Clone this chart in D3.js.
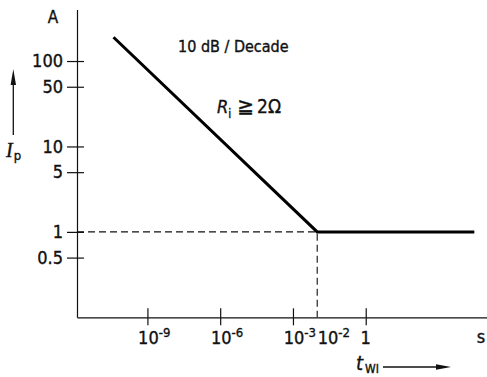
<!DOCTYPE html>
<html>
<head>
<meta charset="utf-8">
<script src="https://cdn.jsdelivr.net/npm/d3@7/dist/d3.min.js"></script>
<style>
  html, body { margin: 0; padding: 0; background: #fff; }
  svg { display: block; }
  text { font-family: "Liberation Sans Narrow", "Arial Narrow", "DejaVu Sans Condensed", sans-serif; fill: #111; stroke: #111; stroke-width: 0.35px; }
</style>
</head>
<body>
<svg id="chart" width="487" height="377"></svg>
<script>
// Pulse current limit vs. pulse width (log-log)
const yTickValues = [0.5, 1, 5, 10, 50, 100];
const yTickLabels = ["0.5", "1", "5", "10", "50", "100"];
const xTickValues = [1e-9, 1e-6, 1e-3, 1];
const xLabelValues = [1e-9, 1e-6, 1e-3, 1e-2, 1];
const xLabelExponents = ["-9", "-6", "-3", "-2", ""];
const pulseWidth = [4e-11, 1e-2, 3e4];   // s
const pulseCurrent = [190, 1, 1];        // A
const kneeT = 1e-2, kneeI = 1;

const svg = d3.select("#chart");
const x = d3.scaleLog().domain([1.25e-12, 1e5]).range([77, 487]);
const y = d3.scaleLog().domain([0.1, 400]).range([317.3, 9.6]);
const x0 = x.range()[0], y0 = y.range()[0];

// dashed guides to the knee
svg.append("path")
  .attr("d", `M${x0},${y(kneeI)}H${x(kneeT)}V${y0}`)
  .attr("fill", "none").attr("stroke", "#111").attr("stroke-width", 1.1)
  .attr("stroke-dasharray", "7,4");

// y axis
const yAxis = svg.append("g").attr("transform", `translate(${x0},0)`)
  .call(d3.axisLeft(y).tickValues(yTickValues).tickSize(10).tickSizeOuter(0).tickPadding(4)
    .tickFormat((d, i) => yTickLabels[i]));
yAxis.selectAll(".tick").append("line").attr("x2", 7).attr("stroke", "#111");
yAxis.selectAll("line, path").attr("stroke", "#111").attr("stroke-width", 1.2);
yAxis.selectAll("text").attr("font-size", 18).attr("fill", "#111")
  .style("font-family", '"Liberation Sans Narrow", "Arial Narrow", "DejaVu Sans Condensed", sans-serif');

// x axis
const xAxis = svg.append("g").attr("transform", `translate(0,${y0})`)
  .call(d3.axisBottom(x).tickValues(xTickValues).tickSize(8).tickSizeOuter(0).tickFormat(""));
xAxis.selectAll(".tick").append("line").attr("y2", -9).attr("stroke", "#111");
xAxis.selectAll("line, path").attr("stroke", "#111").attr("stroke-width", 1.2);

// x tick labels: "10" centred on the tick, exponent raised after it
xLabelValues.forEach((v, i) => {
  const t = svg.append("text").attr("y", 344).attr("font-size", 18);
  const exp = xLabelExponents[i];
  if (!exp) {
    t.attr("x", x(v)).attr("text-anchor", "middle").text("1");
    return;
  }
  const base = t.append("tspan").text("10");
  t.append("tspan").attr("dy", -7).attr("font-size", 13).text(exp);
  const w = base.node().getComputedTextLength();
  t.attr("x", v === kneeT ? x(v) + 0.5 : x(v) - w / 2 + 1);
});

// characteristic
svg.append("path")
  .datum(pulseWidth.map((t, i) => [t, pulseCurrent[i]]))
  .attr("d", d3.line().x(d => x(d[0])).y(d => y(d[1])))
  .attr("fill", "none").attr("stroke", "#000").attr("stroke-width", 3)
  .attr("stroke-linejoin", "miter");

// units
svg.append("text").attr("x", 53).attr("y", 23).attr("font-size", 17).attr("text-anchor", "middle").text("A");
svg.append("text").attr("x", 481).attr("y", 343).attr("font-size", 18).attr("text-anchor", "middle").text("s");

// annotations
svg.append("text").attr("x", 178).attr("y", 52).attr("font-size", 16)
  .text("10 dB / Decade");
const ri = svg.append("text").attr("x", 217).attr("y", 113).attr("font-size", 18);
ri.append("tspan").attr("font-style", "italic").text("R");
ri.append("tspan").attr("dy", 5).attr("font-size", 12).text("i");
ri.append("tspan").attr("dy", -5).attr("dx", 6).style("font-family", '"DejaVu Sans", sans-serif').attr("font-size", 20).text("≧");
ri.append("tspan").attr("dx", 3).attr("font-size", 19).text("2Ω");

// y axis caption with arrow
svg.append("line").attr("x1", 13.3).attr("x2", 13.3).attr("y1", 135).attr("y2", 80)
  .attr("stroke", "#111").attr("stroke-width", 1.3);
svg.append("path").attr("d", "M13.3,69 L10.6,85 L16,85 Z").attr("fill", "#111");
const ip = svg.append("text").attr("x", 6).attr("y", 157).attr("font-size", 20);
ip.append("tspan").attr("font-style", "italic").style("font-family", '"Liberation Serif", serif').text("I");
ip.append("tspan").attr("dy", 3).attr("dx", 1).attr("font-size", 13).text("p");

// x axis caption with arrow
const tw = svg.append("text").attr("x", 356).attr("y", 370).attr("font-size", 20);
tw.append("tspan").attr("font-style", "italic").text("t");
tw.append("tspan").attr("dy", 3).attr("dx", 2).attr("font-size", 12).text("WI");
svg.append("line").attr("x1", 383).attr("x2", 440).attr("y1", 367).attr("y2", 367)
  .attr("stroke", "#111").attr("stroke-width", 1.3);
svg.append("path").attr("d", "M451,367 L436,364.3 L436,369.7 Z").attr("fill", "#111");
</script>
</body>
</html>
